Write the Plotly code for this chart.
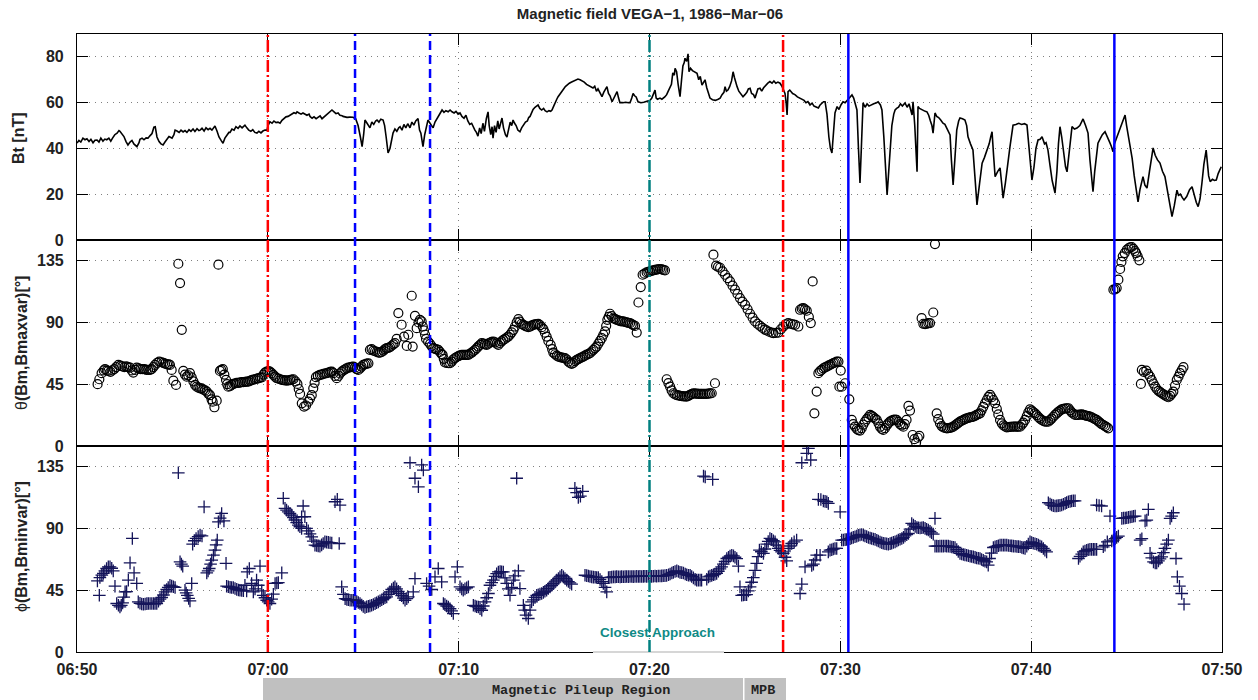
import plotly.graph_objects as go
from plotly.subplots import make_subplots

# ---------------- data (time in minutes after 06:50 UT) ----------------
TITLE = "Magnetic field VEGA\u22121, 1986\u2212Mar\u221206"
tick_minutes = [0, 10, 20, 30, 40, 50, 60]
tick_labels = ["06:50", "07:00", "07:10", "07:20", "07:30", "07:40", "07:50"]
bt_ticks = [0, 20, 40, 60, 80]
ang_ticks = [0, 45, 90, 135]

bt_pts = [
    (0.00, 42.4), (0.10, 43.5), (0.20, 42.8), (0.31, 44.5), (0.42, 43.8), (0.52, 44.2), (0.63, 43.0),
    (0.73, 44.0), (0.84, 42.5), (0.94, 43.6), (1.05, 43.7), (1.15, 42.8), (1.25, 44.5), (1.36, 43.2),
    (1.46, 44.1), (1.56, 43.8), (1.67, 44.5), (1.77, 43.2), (1.87, 44.6), (1.98, 46.0), (2.10, 46.7),
    (2.20, 47.8), (2.25, 47.5), (2.36, 46.0), (2.46, 45.2), (2.57, 43.0), (2.67, 41.5), (2.78, 42.8),
    (2.88, 43.5), (2.98, 42.0), (3.08, 41.2), (3.14, 40.8), (3.25, 42.5), (3.30, 44.0), (3.41, 44.5),
    (3.51, 43.8), (3.62, 44.6), (3.72, 44.5), (3.82, 45.5), (3.93, 46.5), (4.03, 49.3), (4.10, 49.5),
    (4.19, 45.0), (4.30, 43.0), (4.40, 42.0), (4.51, 41.5), (4.61, 42.8), (4.72, 44.0), (4.82, 45.2),
    (4.87, 45.0), (4.98, 44.5), (5.08, 46.0), (5.14, 48.0), (5.24, 47.6), (5.35, 47.0), (5.45, 48.0),
    (5.56, 47.2), (5.66, 47.8), (5.76, 47.0), (5.87, 48.2), (5.97, 47.5), (6.08, 48.5), (6.18, 47.4),
    (6.29, 48.6), (6.39, 47.8), (6.45, 48.0), (6.55, 48.8), (6.66, 47.6), (6.76, 49.0), (6.87, 48.2),
    (6.97, 48.8), (7.07, 48.0), (7.17, 49.2), (7.23, 49.8), (7.34, 47.5), (7.44, 45.0), (7.55, 43.5),
    (7.65, 42.3), (7.75, 44.5), (7.86, 46.0), (7.96, 47.0), (8.02, 47.0), (8.12, 48.5), (8.23, 48.0),
    (8.33, 49.5), (8.44, 48.8), (8.54, 49.8), (8.65, 49.0), (8.80, 50.2), (8.90, 49.0), (9.00, 48.0),
    (9.11, 47.5), (9.21, 48.2), (9.32, 47.0), (9.43, 46.7), (9.53, 47.5), (9.64, 46.8), (9.74, 47.6),
    (9.85, 48.0), (9.96, 48.0), (10.01, 50.0), (10.11, 51.7), (10.22, 51.0), (10.32, 52.0), (10.43, 51.3),
    (10.53, 51.5), (10.64, 51.0), (10.74, 52.3), (10.85, 53.0), (10.95, 53.8), (11.06, 54.0), (11.16, 54.6),
    (11.26, 55.0), (11.37, 55.6), (11.47, 55.3), (11.53, 56.0), (11.63, 55.5), (11.74, 55.0), (11.84, 55.5),
    (11.95, 54.8), (12.05, 54.5), (12.16, 55.0), (12.21, 54.0), (12.32, 53.2), (12.42, 53.8), (12.53, 53.0),
    (12.63, 53.6), (12.74, 54.2), (12.84, 53.0), (12.95, 53.8), (13.05, 54.8), (13.16, 55.5), (13.26, 56.0),
    (13.36, 56.8), (13.47, 56.0), (13.57, 55.2), (13.68, 55.5), (13.78, 54.5), (13.89, 54.3), (13.94, 54.0),
    (14.05, 53.8), (14.15, 53.6), (14.30, 53.7), (14.46, 53.6), (14.60, 53.0), (14.73, 50.0), (14.85, 45.0),
    (14.94, 40.8), (15.02, 46.0), (15.09, 52.4), (15.20, 51.0), (15.35, 49.0), (15.45, 51.5), (15.55, 50.5),
    (15.65, 52.0), (15.72, 52.4), (15.82, 51.5), (15.92, 52.8), (16.04, 52.4), (16.12, 50.0), (16.20, 45.0),
    (16.30, 38.0), (16.40, 40.0), (16.50, 45.0), (16.56, 46.7), (16.66, 48.5), (16.76, 47.5), (16.86, 49.0),
    (16.93, 49.5), (17.03, 48.0), (17.13, 50.5), (17.23, 49.0), (17.33, 50.8), (17.45, 49.0), (17.55, 51.5),
    (17.65, 50.2), (17.75, 52.0), (17.87, 53.0), (17.95, 48.0), (18.02, 46.7), (18.08, 43.5), (18.13, 40.8),
    (18.22, 46.0), (18.30, 49.5), (18.39, 52.4), (18.50, 51.0), (18.60, 50.0), (18.66, 49.0), (18.76, 51.5),
    (18.86, 53.0), (18.96, 54.5), (19.05, 55.5), (19.13, 56.8), (19.23, 55.8), (19.33, 56.5), (19.45, 56.0),
    (19.55, 56.8), (19.65, 56.0), (19.76, 55.5), (19.86, 56.2), (19.97, 55.0), (20.07, 55.5), (20.17, 54.0),
    (20.28, 53.2), (20.38, 54.5), (20.48, 52.0), (20.58, 50.5), (20.68, 51.0), (20.75, 49.5), (20.85, 48.0),
    (20.93, 47.0), (21.01, 45.4), (21.10, 49.0), (21.18, 46.5), (21.27, 51.0), (21.35, 47.5), (21.45, 53.0),
    (21.54, 56.0), (21.60, 50.0), (21.68, 46.0), (21.75, 49.5), (21.80, 44.5), (21.88, 50.0), (21.96, 47.0),
    (22.05, 52.0), (22.12, 48.5), (22.20, 51.0), (22.27, 53.3), (22.35, 49.0), (22.45, 46.0), (22.53, 45.0),
    (22.62, 49.5), (22.70, 51.5), (22.78, 50.0), (22.85, 52.4), (22.93, 51.0), (23.01, 50.0), (23.10, 48.0),
    (23.21, 47.3), (23.30, 49.0), (23.40, 50.5), (23.50, 51.5), (23.60, 52.0), (23.67, 53.5), (23.74, 54.0),
    (23.82, 55.5), (23.90, 57.0), (24.00, 58.0), (24.08, 58.5), (24.16, 59.0), (24.25, 57.5), (24.35, 56.8),
    (24.45, 57.5), (24.53, 56.5), (24.63, 56.0), (24.73, 56.5), (24.82, 56.2), (24.89, 56.8), (24.98, 58.5),
    (25.06, 60.5), (25.14, 61.5), (25.21, 62.6), (25.30, 63.5), (25.40, 65.0), (25.50, 66.0), (25.59, 67.0),
    (25.68, 67.7), (25.80, 68.5), (25.92, 69.0), (26.04, 69.5), (26.15, 69.8), (26.25, 70.3), (26.36, 70.0),
    (26.47, 69.5), (26.58, 69.0), (26.70, 68.0), (26.80, 67.5), (26.92, 67.0), (27.04, 66.4), (27.13, 67.2),
    (27.22, 65.0), (27.30, 66.0), (27.40, 64.5), (27.51, 62.6), (27.60, 64.5), (27.70, 66.0), (27.77, 67.0),
    (27.85, 64.0), (27.93, 63.0), (28.04, 60.4), (28.12, 62.0), (28.20, 63.5), (28.30, 64.8), (28.38, 62.0),
    (28.45, 60.0), (28.60, 60.0), (28.75, 60.2), (28.90, 60.0), (28.98, 60.0), (29.07, 62.0), (29.14, 64.0),
    (29.22, 63.0), (29.30, 62.5), (29.40, 60.4), (29.55, 60.0), (29.70, 60.2), (29.85, 60.5), (30.03, 61.0),
    (30.12, 62.0), (30.20, 63.5), (30.29, 65.5), (30.35, 62.0), (30.42, 61.5), (30.55, 62.0), (30.65, 61.5),
    (30.80, 62.5), (30.90, 63.5), (30.97, 64.8), (31.05, 66.0), (31.15, 68.0), (31.22, 73.0), (31.30, 72.0),
    (31.34, 75.0), (31.42, 73.5), (31.50, 68.0), (31.60, 62.6), (31.68, 70.0), (31.75, 76.0), (31.82, 77.5),
    (31.86, 79.4), (31.95, 78.0), (32.02, 81.3), (32.07, 73.5), (32.15, 75.0), (32.25, 74.0), (32.35, 73.5),
    (32.49, 72.8), (32.58, 70.0), (32.66, 71.5), (32.75, 67.7), (32.83, 69.0), (32.91, 70.0), (33.00, 66.5),
    (33.08, 64.0), (33.17, 62.0), (33.30, 61.3), (33.45, 61.0), (33.60, 61.5), (33.70, 62.0), (33.80, 63.5),
    (33.90, 64.5), (33.96, 67.0), (34.03, 65.0), (34.11, 65.5), (34.20, 67.0), (34.30, 69.5), (34.38, 73.5),
    (34.45, 71.0), (34.52, 68.5), (34.59, 67.0), (34.68, 65.0), (34.78, 64.0), (34.90, 62.6), (35.00, 63.5),
    (35.10, 64.5), (35.18, 66.0), (35.27, 66.3), (35.35, 64.0), (35.45, 63.5), (35.53, 62.0), (35.60, 64.5),
    (35.68, 66.0), (35.79, 66.3), (35.88, 65.0), (35.98, 66.5), (36.08, 67.5), (36.20, 68.5), (36.31, 69.2),
    (36.42, 68.5), (36.52, 69.5), (36.62, 68.5), (36.73, 69.0), (36.84, 68.5), (36.95, 67.0), (37.03, 65.5),
    (37.10, 64.0), (37.16, 60.0), (37.21, 54.6), (37.26, 64.8), (37.35, 65.5), (37.50, 64.0), (37.62, 63.5),
    (37.75, 62.5), (37.89, 62.0), (38.00, 61.5), (38.10, 61.0), (38.20, 60.0), (38.30, 60.5), (38.41, 59.0),
    (38.52, 59.8), (38.62, 58.5), (38.75, 58.2), (38.85, 57.7), (38.94, 59.0), (39.05, 60.0), (39.12, 60.4),
    (39.20, 60.4), (39.30, 55.0), (39.40, 45.0), (39.48, 40.0), (39.56, 38.0), (39.65, 48.0), (39.72, 55.5),
    (39.83, 58.3), (39.93, 57.0), (40.03, 59.0), (40.14, 60.4), (40.25, 60.0), (40.40, 61.5), (40.52, 62.5),
    (40.61, 63.4), (40.70, 62.0), (40.78, 60.0), (40.87, 56.8), (40.95, 40.0), (41.03, 24.9), (41.10, 40.0),
    (41.19, 59.9), (41.30, 58.0), (41.40, 59.5), (41.50, 58.5), (41.60, 59.0), (41.75, 59.5), (41.90, 60.0),
    (41.98, 60.4), (42.10, 59.0), (42.18, 56.8), (42.28, 45.0), (42.36, 30.0), (42.45, 19.7), (42.52, 28.0),
    (42.60, 39.3), (42.70, 50.0), (42.80, 55.0), (42.87, 56.8), (42.95, 57.5), (43.05, 58.0), (43.15, 59.5),
    (43.25, 58.5), (43.39, 59.9), (43.50, 58.0), (43.60, 59.5), (43.70, 57.0), (43.76, 54.6), (43.81, 60.4),
    (43.90, 50.0), (44.02, 29.8), (44.07, 58.3), (44.15, 57.5), (44.25, 57.0), (44.35, 56.5), (44.45, 56.2),
    (44.54, 56.0), (44.63, 54.5), (44.72, 52.0), (44.80, 50.0), (44.86, 46.7), (44.96, 55.5), (45.05, 54.0),
    (45.15, 53.5), (45.25, 52.5), (45.38, 51.0), (45.48, 50.5), (45.58, 49.0), (45.68, 47.5), (45.75, 45.9),
    (45.82, 35.0), (45.91, 24.0), (46.00, 35.0), (46.10, 48.0), (46.20, 52.0), (46.27, 53.3), (46.40, 53.0),
    (46.53, 52.4), (46.62, 50.0), (46.69, 45.1), (46.82, 42.0), (46.95, 39.3), (47.05, 28.0), (47.16, 15.3),
    (47.30, 25.0), (47.43, 33.6), (47.55, 36.0), (47.69, 39.3), (47.80, 42.0), (47.88, 45.0), (47.95, 47.3),
    (48.03, 37.0), (48.11, 27.7), (48.25, 30.0), (48.37, 31.5), (48.45, 25.0), (48.53, 18.3), (48.65, 25.0),
    (48.77, 34.0), (48.89, 40.8), (48.97, 45.5), (49.05, 50.2), (49.20, 50.5), (49.35, 51.0), (49.50, 50.5),
    (49.65, 50.8), (49.78, 50.2), (49.88, 42.0), (49.96, 33.0), (50.04, 26.2), (50.15, 32.0), (50.25, 40.0),
    (50.36, 43.7), (50.47, 44.0), (50.57, 45.1), (50.70, 42.0), (50.78, 42.5), (50.88, 39.3), (50.98, 33.0),
    (51.10, 26.0), (51.25, 20.5), (51.35, 30.0), (51.43, 42.0), (51.51, 49.5), (51.60, 45.0), (51.70, 38.0),
    (51.80, 32.0), (51.88, 29.8), (51.98, 38.0), (52.06, 45.0), (52.14, 49.5), (52.27, 48.5), (52.40, 48.9),
    (52.55, 50.0), (52.72, 52.9), (52.85, 50.0), (52.98, 46.7), (53.08, 35.0), (53.17, 26.0), (53.24, 21.1),
    (53.33, 30.0), (53.42, 38.0), (53.50, 42.3), (53.60, 44.0), (53.73, 46.0), (53.87, 47.3), (53.98, 45.5),
    (54.10, 43.0), (54.20, 41.0), (54.29, 38.6), (54.36, 42.0), (54.50, 45.1), (54.62, 47.5), (54.75, 51.0),
    (54.85, 53.5), (54.92, 54.6), (55.00, 50.0), (55.10, 45.0), (55.20, 40.0), (55.29, 35.8), (55.40, 28.0),
    (55.50, 22.0), (55.60, 16.7), (55.70, 22.0), (55.80, 26.0), (55.86, 27.7), (55.96, 24.0), (56.07, 22.7),
    (56.20, 30.0), (56.30, 36.0), (56.39, 40.2), (56.50, 37.0), (56.62, 35.0), (56.75, 33.6), (56.88, 30.0),
    (57.01, 27.7), (57.12, 22.0), (57.25, 15.0), (57.38, 10.2), (57.50, 15.0), (57.64, 21.8), (57.72, 19.5),
    (57.82, 20.0), (57.92, 18.5), (58.01, 17.5), (58.15, 19.0), (58.30, 22.0), (58.43, 23.3), (58.55, 19.0),
    (58.65, 16.5), (58.75, 14.6), (58.85, 18.0), (58.95, 25.0), (59.05, 33.0), (59.17, 39.3), (59.25, 33.0),
    (59.30, 28.0), (59.38, 25.5), (59.50, 26.5), (59.60, 26.0), (59.70, 26.2), (59.80, 29.0), (59.96, 32.0),
]

theta_pts = [
    (1.08, 45.0), (1.17, 48.6), (1.29, 53.0), (1.40, 55.0), (1.47, 56.0), (1.56, 55.0), (1.64, 54.7),
    (1.75, 54.0), (1.85, 55.0), (1.95, 56.0), (2.05, 57.5), (2.17, 59.0), (2.27, 58.5), (2.37, 58.0),
    (2.48, 57.5), (2.58, 58.0), (2.68, 57.5), (2.78, 57.0), (2.87, 55.0), (2.95, 53.5), (3.05, 55.5),
    (3.13, 57.0), (3.23, 56.5), (3.33, 56.0), (3.43, 56.0), (3.53, 56.0), (3.63, 55.5), (3.73, 55.5),
    (3.83, 55.5), (3.91, 56.0), (4.00, 57.5), (4.09, 59.0), (4.20, 60.5), (4.31, 61.5), (4.42, 61.0),
    (4.52, 60.5), (4.61, 60.0), (4.72, 59.5), (4.80, 59.5), (4.87, 59.0), (4.96, 55.4), (5.05, 47.6),
    (5.19, 44.5), (5.31, 132.7), (5.40, 118.6), (5.49, 84.6), (5.57, 54.7), (5.66, 52.0), (5.75, 50.5),
    (5.83, 51.5), (5.92, 53.0), (6.01, 50.0), (6.10, 47.0), (6.19, 44.5), (6.27, 43.2), (6.36, 42.5),
    (6.45, 42.0), (6.53, 42.0), (6.62, 41.0), (6.71, 40.5), (6.80, 39.6), (6.89, 38.0), (6.97, 37.0),
    (7.05, 34.0), (7.11, 32.3), (7.20, 28.2), (7.32, 33.0), (7.41, 132.0), (7.49, 54.7), (7.56, 55.5),
    (7.64, 56.0), (7.72, 52.0), (7.81, 48.1), (7.87, 45.0), (7.93, 43.2), (8.02, 43.5), (8.10, 44.5),
    (8.19, 45.2), (8.28, 45.5), (8.37, 46.0), (8.46, 46.0), (8.54, 46.2), (8.63, 46.5), (8.72, 46.5),
    (8.81, 46.7), (8.90, 46.9), (8.98, 46.9), (9.07, 47.5), (9.15, 48.0), (9.24, 48.3), (9.33, 48.6),
    (9.42, 49.0), (9.50, 49.3), (9.59, 49.7), (9.68, 50.0), (9.77, 52.0), (9.85, 53.5), (9.94, 54.2),
    (10.03, 54.5), (10.11, 54.2), (10.20, 53.0), (10.29, 51.8), (10.38, 50.5), (10.46, 49.5), (10.55, 49.0),
    (10.64, 48.6), (10.73, 48.2), (10.81, 48.0), (10.90, 47.8), (10.99, 47.6), (11.08, 47.8), (11.17, 48.0),
    (11.25, 48.3), (11.34, 48.6), (11.45, 47.0), (11.55, 45.2), (11.62, 41.5), (11.69, 37.9), (11.78, 31.1),
    (11.90, 28.7), (12.00, 29.5), (12.12, 32.3), (12.21, 34.5), (12.30, 37.0), (12.38, 42.0), (12.45, 46.0),
    (12.52, 50.1), (12.62, 51.0), (12.73, 51.8), (12.82, 52.0), (12.91, 52.5), (13.00, 52.8), (13.09, 53.0),
    (13.18, 53.5), (13.27, 54.0), (13.35, 54.2), (13.44, 53.0), (13.52, 51.0), (13.61, 49.4), (13.70, 51.0),
    (13.78, 52.8), (13.87, 54.2), (13.96, 55.0), (14.05, 55.8), (14.13, 56.6), (14.22, 57.0), (14.31, 57.3),
    (14.40, 57.6), (14.48, 57.8), (14.57, 57.0), (14.65, 56.0), (14.74, 55.4), (14.83, 56.5), (14.91, 57.8),
    (15.00, 59.0), (15.09, 59.5), (15.18, 60.0), (15.27, 60.2), (15.35, 70.0), (15.44, 70.5), (15.53, 69.5),
    (15.62, 69.0), (15.71, 68.5), (15.80, 68.0), (15.88, 68.0), (15.97, 68.5), (16.06, 69.5), (16.14, 70.5),
    (16.23, 71.3), (16.32, 71.5), (16.40, 72.0), (16.49, 73.0), (16.58, 74.0), (16.66, 74.9), (16.75, 78.0),
    (16.84, 96.8), (17.01, 88.3), (17.14, 79.7), (17.28, 72.9), (17.36, 81.0), (17.54, 109.4), (17.59, 72.4),
    (17.71, 94.8), (17.80, 85.8), (17.90, 90.0), (17.97, 91.9), (18.06, 90.7), (18.12, 87.0), (18.18, 84.1),
    (18.24, 81.0), (18.29, 78.0), (18.40, 76.0), (18.50, 74.4), (18.58, 72.8), (18.67, 71.3), (18.76, 70.8),
    (18.84, 70.4), (18.93, 70.0), (19.02, 68.5), (19.10, 67.0), (19.16, 66.4), (19.22, 63.5), (19.28, 60.8),
    (19.37, 60.5), (19.46, 60.3), (19.55, 60.3), (19.64, 61.5), (19.72, 63.0), (19.81, 64.0), (19.90, 64.8),
    (19.99, 65.5), (20.07, 66.0), (20.16, 66.4), (20.25, 66.4), (20.34, 66.4), (20.42, 66.4), (20.51, 66.4),
    (20.60, 67.2), (20.69, 68.0), (20.77, 69.0), (20.86, 70.0), (20.95, 71.2), (21.03, 72.5), (21.12, 73.7),
    (21.21, 74.9), (21.30, 74.5), (21.38, 74.0), (21.47, 73.7), (21.56, 74.5), (21.64, 75.2), (21.73, 75.8),
    (21.82, 76.1), (21.91, 75.5), (21.99, 74.5), (22.08, 73.7), (22.17, 75.0), (22.25, 76.2), (22.34, 77.3),
    (22.43, 78.0), (22.52, 79.0), (22.60, 79.7), (22.69, 81.0), (22.78, 82.8), (22.87, 84.6), (22.95, 87.0),
    (23.04, 90.0), (23.13, 92.4), (23.21, 90.5), (23.30, 89.0), (23.39, 88.2), (23.48, 87.5), (23.56, 87.0),
    (23.65, 86.5), (23.74, 87.0), (23.82, 87.6), (23.91, 88.2), (24.00, 88.5), (24.09, 88.8), (24.17, 88.9),
    (24.26, 88.0), (24.35, 86.5), (24.44, 85.1), (24.52, 82.5), (24.61, 79.7), (24.70, 76.5), (24.82, 73.7),
    (24.90, 70.5), (24.96, 68.0), (25.05, 66.8), (25.14, 65.8), (25.22, 65.1), (25.31, 64.7), (25.40, 64.4),
    (25.48, 64.2), (25.57, 64.0), (25.66, 63.0), (25.75, 61.5), (25.83, 60.5), (25.92, 59.8), (26.01, 60.5),
    (26.10, 61.8), (26.19, 62.7), (26.27, 63.3), (26.36, 64.0), (26.45, 64.6), (26.53, 65.1), (26.62, 65.8),
    (26.71, 66.5), (26.80, 67.0), (26.88, 67.6), (26.97, 68.8), (27.06, 70.0), (27.15, 71.2), (27.23, 72.4),
    (27.32, 74.5), (27.41, 76.5), (27.50, 78.5), (27.58, 81.0), (27.67, 83.4), (27.73, 87.5), (27.79, 91.9),
    (27.86, 94.0), (27.93, 96.3), (28.02, 94.5), (28.11, 93.0), (28.19, 92.5), (28.28, 91.9), (28.37, 91.5),
    (28.46, 91.0), (28.54, 90.8), (28.63, 90.7), (28.72, 90.3), (28.80, 90.0), (28.89, 89.7), (28.98, 89.4),
    (29.07, 88.7), (29.15, 88.0), (29.24, 87.4), (29.33, 82.6), (29.42, 104.5), (29.54, 115.7), (29.64, 124.7),
    (29.74, 125.5), (29.85, 126.4), (29.94, 126.8), (30.03, 127.2), (30.12, 127.6), (30.20, 127.9), (30.29, 128.2),
    (30.38, 128.5), (30.46, 128.7), (30.55, 128.9), (30.64, 128.6), (30.72, 128.2), (30.81, 127.9), (30.90, 48.6),
    (30.99, 45.8), (31.08, 43.2), (31.16, 40.5), (31.25, 38.4), (31.34, 37.5), (31.43, 37.0), (31.51, 36.8),
    (31.60, 36.5), (31.69, 36.3), (31.78, 36.2), (31.86, 36.1), (31.95, 36.0), (32.04, 36.5), (32.12, 37.2),
    (32.21, 37.8), (32.30, 38.4), (32.39, 38.2), (32.47, 38.1), (32.56, 38.0), (32.65, 38.0), (32.73, 38.0),
    (32.82, 38.0), (32.91, 38.0), (33.00, 38.0), (33.09, 38.2), (33.17, 38.3), (33.26, 38.4), (33.43, 45.7),
    (33.35, 139.3), (33.49, 131.3), (33.59, 130.5), (33.70, 129.8), (33.83, 127.2), (33.96, 124.7), (34.09, 122.2),
    (34.22, 119.8), (34.35, 116.8), (34.48, 113.8), (34.61, 110.7), (34.74, 107.7), (34.87, 105.2), (35.01, 102.8),
    (35.14, 99.5), (35.27, 96.3), (35.40, 93.5), (35.53, 90.7), (35.66, 89.0), (35.79, 87.5), (35.92, 86.0),
    (36.05, 84.8), (36.14, 84.1), (36.27, 83.2), (36.40, 82.5), (36.49, 82.2), (36.62, 82.3), (36.75, 82.6),
    (36.88, 85.0), (37.01, 87.0), (37.14, 88.5), (37.27, 89.4), (37.40, 89.0), (37.51, 88.6), (37.63, 88.2),
    (37.80, 87.0), (37.89, 99.2), (37.98, 100.0), (38.06, 100.4), (38.15, 99.5), (38.24, 98.5), (38.35, 94.0),
    (38.45, 89.5), (38.55, 119.8), (38.64, 23.8), (38.76, 39.6), (38.85, 53.0), (38.94, 54.5), (39.02, 55.5),
    (39.11, 56.6), (39.20, 57.2), (39.29, 57.8), (39.38, 58.5), (39.46, 59.0), (39.55, 59.7), (39.64, 60.3),
    (39.72, 60.8), (39.81, 61.5), (39.90, 61.5), (40.02, 54.9), (39.95, 43.2), (40.07, 43.2), (40.25, 45.7),
    (40.47, 34.0), (40.60, 19.0), (40.68, 16.0), (40.77, 14.1), (40.86, 12.5), (40.94, 11.6), (41.03, 11.2),
    (41.12, 13.0), (41.20, 15.5), (41.29, 17.7), (41.38, 19.5), (41.47, 21.0), (41.56, 22.6), (41.65, 22.0),
    (41.73, 21.0), (41.82, 20.0), (41.91, 19.0), (42.00, 16.5), (42.08, 14.0), (42.17, 12.5), (42.25, 11.7),
    (42.34, 13.0), (42.43, 15.0), (42.51, 16.5), (42.60, 17.7), (42.69, 18.5), (42.78, 19.0), (42.86, 19.2),
    (42.95, 19.0), (43.04, 17.5), (43.13, 16.0), (43.21, 15.0), (43.30, 14.1), (43.38, 16.0), (43.47, 19.0),
    (43.57, 29.2), (43.65, 25.8), (43.79, 8.0), (43.88, 5.0), (43.97, 2.4), (44.06, 6.0), (44.14, 7.3),
    (44.26, 93.1), (44.35, 89.0), (44.44, 88.8), (44.52, 89.0), (44.61, 89.5), (44.70, 89.5), (44.87, 97.2),
    (44.96, 147.0), (45.05, 23.8), (45.13, 19.5), (45.22, 16.5), (45.31, 14.5), (45.40, 13.5), (45.49, 13.1),
    (45.58, 12.9), (45.66, 13.0), (45.75, 13.2), (45.84, 13.6), (45.92, 14.1), (46.01, 15.0), (46.10, 16.0),
    (46.18, 16.9), (46.27, 17.7), (46.36, 18.4), (46.45, 19.0), (46.53, 19.6), (46.62, 20.1), (46.71, 20.5),
    (46.80, 20.8), (46.88, 21.1), (46.97, 21.4), (47.06, 22.0), (47.14, 22.6), (47.23, 23.2), (47.32, 23.8),
    (47.40, 26.0), (47.49, 28.5), (47.58, 31.1), (47.67, 33.5), (47.76, 35.8), (47.85, 37.2), (47.93, 35.5),
    (48.02, 33.5), (48.11, 31.1), (48.20, 27.0), (48.28, 23.0), (48.37, 19.0), (48.46, 16.5), (48.55, 15.0),
    (48.63, 14.2), (48.72, 13.6), (48.81, 13.7), (48.90, 13.9), (48.98, 14.0), (49.07, 14.1), (49.16, 14.1),
    (49.25, 14.1), (49.33, 14.1), (49.42, 14.1), (49.51, 15.5), (49.59, 17.0), (49.68, 19.0), (49.77, 21.8),
    (49.85, 24.5), (49.94, 26.7), (50.03, 25.7), (50.11, 24.6), (50.20, 23.8), (50.29, 22.5), (50.38, 21.0),
    (50.46, 20.0), (50.55, 19.0), (50.64, 18.2), (50.72, 17.8), (50.81, 17.7), (50.90, 17.7), (50.99, 18.8),
    (51.07, 20.0), (51.16, 21.3), (51.25, 22.6), (51.34, 23.7), (51.42, 24.8), (51.51, 25.8), (51.60, 26.7),
    (51.69, 27.1), (51.78, 27.3), (51.86, 27.5), (51.95, 27.5), (52.04, 26.0), (52.12, 24.5), (52.21, 23.5),
    (52.30, 22.6), (52.39, 22.6), (52.47, 22.6), (52.56, 22.8), (52.65, 23.0), (52.73, 22.6), (52.82, 22.3),
    (52.91, 22.0), (52.99, 21.7), (53.08, 21.4), (53.17, 20.8), (53.26, 20.2), (53.34, 19.6), (53.43, 19.0),
    (53.52, 18.0), (53.60, 17.0), (53.69, 16.0), (53.78, 15.3), (53.87, 14.5), (53.95, 13.7), (54.04, 12.9),
    (54.31, 113.8), (54.40, 114.0), (54.48, 115.0), (54.57, 121.1), (54.66, 128.9), (54.73, 134.0), (54.80, 138.1),
    (54.90, 140.5), (55.01, 142.9), (55.10, 144.0), (55.19, 144.6), (55.27, 144.9), (55.36, 143.5), (55.44, 142.0),
    (55.50, 140.5), (55.58, 138.0), (55.67, 135.2), (55.75, 45.2), (55.80, 55.4), (55.90, 54.0), (56.03, 54.9),
    (56.13, 52.5), (56.23, 50.5), (56.32, 48.0), (56.41, 45.5), (56.50, 43.2), (56.58, 41.5), (56.67, 40.2),
    (56.76, 39.3), (56.84, 38.4), (56.93, 37.6), (57.02, 36.8), (57.10, 36.1), (57.19, 35.5), (57.28, 36.5),
    (57.36, 38.0), (57.45, 39.6), (57.54, 44.0), (57.63, 48.1), (57.72, 50.5), (57.80, 53.0), (57.89, 55.2),
    (57.98, 57.4),
]

phi_pts = [
    (1.07, 51.8), (1.17, 41.3), (1.20, 54.2), (1.30, 56.0), (1.38, 57.2), (1.46, 59.0), (1.55, 60.8),
    (1.64, 62.0), (1.73, 62.0), (1.82, 61.0), (1.90, 59.1), (1.99, 47.9), (2.08, 35.3), (2.17, 34.0),
    (2.25, 32.8), (2.32, 34.0), (2.39, 35.7), (2.45, 40.0), (2.52, 43.8), (2.60, 44.0), (2.69, 52.3),
    (2.78, 64.9), (2.90, 82.7), (2.99, 57.6), (3.13, 49.9), (3.21, 36.5), (3.30, 35.5), (3.39, 35.0),
    (3.48, 34.8), (3.57, 35.0), (3.66, 35.2), (3.74, 35.3), (3.83, 35.3), (3.92, 35.3), (4.01, 35.3),
    (4.09, 35.3), (4.18, 35.3), (4.27, 37.0), (4.35, 38.5), (4.44, 39.7), (4.53, 41.5), (4.61, 43.8),
    (4.70, 45.5), (4.78, 47.0), (4.87, 48.6), (4.96, 48.0), (5.05, 47.5), (5.14, 47.0), (5.31, 130.5),
    (5.40, 65.6), (5.47, 64.0), (5.54, 62.5), (5.66, 45.0), (5.72, 43.0), (5.78, 41.3), (5.85, 39.0),
    (5.92, 37.2), (6.01, 49.9), (6.06, 78.5), (6.15, 81.0), (6.24, 82.7), (6.35, 84.0), (6.45, 85.1),
    (6.55, 84.5), (6.66, 105.7), (6.80, 57.6), (6.87, 59.0), (6.93, 60.8), (7.00, 64.0), (7.06, 66.9),
    (7.15, 70.5), (7.23, 74.2), (7.29, 78.0), (7.35, 81.5), (7.41, 94.8), (7.50, 97.5), (7.58, 100.9),
    (7.70, 95.5), (7.81, 64.5), (7.84, 47.9), (7.93, 47.5), (8.02, 47.2), (8.10, 47.0), (8.19, 47.0),
    (8.28, 46.2), (8.37, 45.6), (8.46, 45.2), (8.54, 45.0), (8.63, 44.8), (8.72, 44.6), (8.80, 48.6),
    (8.89, 44.5), (8.92, 58.3), (9.03, 60.8), (9.15, 49.9), (9.24, 43.8), (9.33, 46.0), (9.41, 52.3),
    (9.50, 48.6), (9.59, 62.5), (9.68, 44.5), (9.76, 41.3), (9.85, 39.5), (9.94, 37.7), (10.02, 36.5),
    (10.11, 35.3), (10.20, 38.5), (10.29, 42.1), (10.38, 49.9), (10.47, 50.2), (10.55, 50.5), (10.73, 57.6),
    (10.81, 111.9), (10.90, 104.6), (10.98, 103.3), (11.07, 102.1), (11.16, 101.0), (11.25, 99.7), (11.34, 97.8),
    (11.42, 96.1), (11.51, 94.2), (11.60, 92.4), (11.68, 91.2), (11.77, 90.0), (11.77, 98.5), (11.85, 106.3),
    (11.94, 98.5), (12.03, 90.0), (12.12, 88.2), (12.21, 86.0), (12.30, 83.9), (12.38, 80.8), (12.47, 77.8),
    (12.56, 77.5), (12.64, 77.3), (12.73, 77.1), (12.82, 78.0), (12.90, 79.0), (12.99, 80.2), (13.08, 80.0),
    (13.17, 79.8), (13.26, 79.6), (13.35, 79.4), (13.52, 109.4), (13.64, 111.2), (13.74, 79.0), (13.78, 107.0),
    (13.87, 47.4), (13.96, 42.0), (14.05, 38.9), (14.14, 38.3), (14.22, 38.0), (14.31, 37.7), (14.40, 37.7),
    (14.48, 37.7), (14.57, 37.7), (14.66, 36.8), (14.74, 36.0), (14.83, 35.3), (14.92, 34.2), (15.00, 33.2),
    (15.09, 32.4), (15.18, 32.9), (15.27, 33.3), (15.35, 33.6), (15.44, 34.0), (15.53, 34.6), (15.62, 35.2),
    (15.70, 35.9), (15.79, 36.5), (15.88, 37.3), (15.97, 38.1), (16.06, 38.9), (16.14, 39.5), (16.23, 40.1),
    (16.32, 42.0), (16.40, 43.8), (16.49, 45.5), (16.58, 46.5), (16.66, 47.4), (16.75, 46.0), (16.84, 44.2),
    (16.93, 42.6), (17.01, 41.0), (17.10, 39.3), (17.19, 37.7), (17.28, 38.9), (17.36, 40.1), (17.45, 137.8),
    (17.62, 43.8), (17.71, 53.5), (17.71, 126.5), (17.89, 120.3), (18.06, 136.2), (18.15, 132.5), (18.32, 49.9),
    (18.45, 48.0), (18.59, 45.5), (18.76, 54.7), (18.93, 60.8), (19.11, 51.0), (19.20, 35.3), (19.28, 34.5),
    (19.37, 33.5), (19.46, 32.8), (19.55, 31.5), (19.63, 30.0), (19.72, 28.0), (19.81, 54.7), (19.93, 62.0),
    (20.07, 47.4), (20.16, 46.0), (20.24, 45.0), (20.33, 46.0), (20.42, 46.8), (20.51, 47.4), (20.77, 34.0),
    (20.86, 33.5), (20.94, 33.0), (21.03, 32.8), (21.12, 31.5), (21.21, 30.4), (21.29, 33.5), (21.38, 36.5),
    (21.47, 39.5), (21.56, 42.6), (21.64, 48.6), (21.73, 50.5), (21.82, 52.3), (21.91, 55.0), (21.99, 57.0),
    (22.08, 58.3), (22.17, 58.5), (22.25, 58.4), (22.34, 58.3), (22.43, 54.0), (22.52, 49.9), (22.60, 46.0),
    (22.69, 41.3), (22.78, 47.0), (22.87, 52.3), (22.95, 55.5), (23.04, 126.5), (23.13, 59.1), (23.21, 46.2),
    (23.39, 34.0), (23.46, 30.5), (23.53, 26.8), (23.65, 24.4), (23.74, 30.5), (23.82, 36.5), (23.91, 38.0),
    (24.00, 39.8), (24.09, 41.3), (24.17, 41.7), (24.26, 42.2), (24.35, 42.6), (24.44, 43.4), (24.52, 44.2),
    (24.61, 45.0), (24.70, 46.2), (24.79, 47.4), (24.88, 48.6), (24.96, 49.8), (25.05, 51.0), (25.14, 52.3),
    (25.23, 53.5), (25.31, 54.7), (25.40, 55.9), (25.49, 54.7), (25.57, 53.5), (25.66, 52.3), (25.75, 51.3),
    (25.83, 50.3), (25.92, 49.4), (26.09, 119.2), (26.18, 116.0), (26.27, 112.6), (26.38, 113.5), (26.50, 117.0),
    (26.62, 55.9), (26.71, 55.6), (26.80, 55.3), (26.88, 55.0), (26.97, 54.7), (27.06, 54.5), (27.15, 54.4),
    (27.23, 54.3), (27.32, 54.2), (27.41, 52.8), (27.50, 51.3), (27.58, 49.9), (27.67, 47.0), (27.76, 43.8),
    (27.85, 54.2), (27.93, 54.4), (28.02, 54.5), (28.11, 54.7), (28.20, 54.7), (28.28, 54.9), (28.37, 54.8),
    (28.46, 54.7), (28.54, 54.9), (28.63, 54.8), (28.72, 54.9), (28.80, 55.0), (28.89, 54.9), (28.98, 55.0),
    (29.07, 55.0), (29.15, 54.9), (29.24, 55.0), (29.33, 55.1), (29.42, 55.0), (29.50, 55.1), (29.59, 55.0),
    (29.68, 55.1), (29.76, 55.2), (29.85, 55.1), (29.94, 55.2), (30.03, 55.2), (30.11, 55.1), (30.20, 55.2),
    (30.29, 55.3), (30.37, 55.2), (30.46, 55.3), (30.55, 55.3), (30.64, 55.4), (30.72, 55.5), (30.81, 55.6),
    (30.90, 55.8), (31.00, 56.3), (31.08, 56.8), (31.17, 57.5), (31.25, 58.0), (31.34, 58.6), (31.43, 59.1),
    (31.52, 58.6), (31.60, 58.0), (31.69, 57.8), (31.78, 57.5), (31.87, 56.8), (31.95, 56.3), (32.04, 55.9),
    (32.13, 55.9), (32.21, 55.0), (32.30, 54.0), (32.39, 53.0), (32.47, 52.3), (32.56, 52.3), (32.65, 52.3),
    (32.73, 52.3), (32.83, 128.1), (32.92, 127.5), (33.31, 125.7), (33.00, 53.0), (33.09, 54.7), (33.17, 55.3),
    (33.26, 55.8), (33.35, 56.3), (33.43, 56.7), (33.52, 57.2), (33.61, 58.8), (33.69, 60.5), (33.78, 62.0),
    (33.87, 64.0), (33.96, 66.0), (34.05, 68.1), (34.14, 69.0), (34.22, 69.8), (34.31, 70.5), (34.40, 70.0),
    (34.48, 69.0), (34.57, 68.0), (34.66, 62.5), (34.74, 47.4), (34.83, 41.3), (34.92, 41.5), (35.00, 41.7),
    (35.09, 41.8), (35.18, 44.5), (35.27, 47.4), (35.35, 50.8), (35.44, 54.2), (35.53, 59.4), (35.62, 64.5),
    (35.69, 69.5), (35.76, 74.2), (35.86, 73.0), (35.97, 71.8), (36.05, 75.0), (36.14, 78.5), (36.22, 80.5),
    (36.31, 82.7), (36.40, 82.0), (36.49, 81.0), (36.58, 80.2), (36.66, 77.8), (36.75, 75.4), (36.84, 74.0),
    (36.92, 72.9), (37.01, 71.8), (37.10, 69.0), (37.19, 66.4), (37.27, 75.4), (37.36, 77.2), (37.45, 79.0),
    (37.58, 80.2), (37.71, 81.5), (37.89, 42.6), (37.98, 49.4), (37.98, 137.8), (38.15, 62.0), (38.24, 144.7),
    (38.33, 148.3), (38.45, 139.8), (38.50, 63.0), (38.59, 64.0), (38.68, 67.0), (38.76, 70.5), (38.85, 111.1),
    (38.94, 70.5), (38.98, 111.0), (39.11, 110.0), (39.20, 109.7), (39.29, 109.4), (39.37, 108.2), (39.37, 72.9),
    (39.46, 74.2), (39.55, 74.5), (39.63, 75.0), (39.72, 75.4), (39.81, 75.4), (39.99, 102.1), (40.07, 81.5),
    (40.16, 81.5), (40.25, 81.8), (40.33, 81.9), (40.42, 82.0), (40.51, 82.5), (40.59, 83.0), (40.68, 83.5),
    (40.77, 83.9), (40.86, 84.4), (40.94, 84.9), (41.03, 85.3), (41.12, 85.6), (41.21, 85.0), (41.29, 84.5),
    (41.38, 84.0), (41.47, 83.4), (41.56, 83.0), (41.64, 82.7), (41.73, 82.3), (41.82, 82.0), (41.91, 81.4),
    (41.99, 80.8), (42.08, 80.1), (42.17, 79.5), (42.25, 79.2), (42.34, 78.9), (42.43, 78.7), (42.52, 78.5),
    (42.61, 78.9), (42.69, 79.3), (42.78, 79.8), (42.87, 80.2), (42.96, 80.8), (43.04, 81.5), (43.13, 82.1),
    (43.22, 82.7), (43.31, 83.5), (43.39, 84.5), (43.48, 85.4), (43.57, 86.3), (43.65, 89.5), (43.74, 93.6),
    (43.83, 92.5), (43.92, 91.5), (44.01, 90.7), (44.09, 90.5), (44.18, 90.3), (44.27, 90.5), (44.35, 90.7),
    (44.44, 90.0), (44.52, 89.4), (44.61, 88.8), (44.70, 87.8), (44.78, 86.8), (44.87, 85.8), (44.96, 97.3),
    (44.96, 77.1), (45.05, 77.1), (45.13, 77.0), (45.22, 77.1), (45.31, 77.1), (45.40, 77.1), (45.49, 77.2),
    (45.57, 77.1), (45.66, 77.1), (45.75, 76.8), (45.84, 76.5), (45.92, 76.3), (46.01, 76.1), (46.10, 74.6),
    (46.18, 73.2), (46.27, 71.8), (46.36, 71.4), (46.45, 71.0), (46.53, 70.7), (46.62, 70.5), (46.71, 70.1),
    (46.80, 69.7), (46.88, 69.5), (46.97, 69.3), (47.06, 68.9), (47.14, 68.5), (47.23, 68.3), (47.32, 68.1),
    (47.40, 67.4), (47.49, 66.7), (47.58, 66.1), (47.67, 65.6), (47.75, 63.2), (47.82, 68.1), (47.92, 72.0),
    (48.02, 76.1), (48.11, 76.6), (48.20, 77.0), (48.28, 77.4), (48.37, 77.8), (48.46, 77.8), (48.55, 77.8),
    (48.63, 77.8), (48.72, 77.8), (48.81, 77.6), (48.90, 77.4), (48.98, 77.3), (49.07, 77.1), (49.16, 77.0),
    (49.25, 76.8), (49.33, 76.7), (49.42, 76.6), (49.51, 76.2), (49.59, 75.8), (49.68, 75.4), (49.77, 77.0),
    (49.85, 78.6), (49.94, 80.2), (50.03, 79.6), (50.11, 79.2), (50.20, 78.8), (50.29, 78.5), (50.38, 77.8),
    (50.46, 77.2), (50.55, 76.6), (50.64, 75.4), (50.72, 74.1), (50.81, 72.9), (50.90, 108.7), (50.99, 107.8),
    (51.07, 107.0), (51.16, 106.6), (51.25, 106.3), (51.34, 106.4), (51.42, 106.6), (51.51, 106.8), (51.60, 107.0),
    (51.69, 107.6), (51.78, 108.2), (51.86, 108.8), (51.95, 109.4), (52.04, 109.7), (52.12, 110.0), (52.21, 110.1),
    (52.30, 110.1), (52.48, 68.1), (52.56, 69.7), (52.65, 71.3), (52.73, 72.9), (52.82, 73.5), (52.91, 74.0),
    (52.99, 74.4), (53.08, 74.7), (53.17, 74.7), (53.26, 74.7), (53.34, 74.7), (53.43, 74.7), (53.43, 107.0),
    (53.56, 106.7), (53.69, 106.3), (53.78, 76.6), (53.87, 77.7), (53.99, 80.2), (54.13, 99.0), (54.22, 80.8),
    (54.31, 81.5), (54.40, 82.5), (54.48, 83.5), (54.57, 84.4), (54.75, 97.3), (54.84, 97.5), (54.93, 97.6),
    (55.01, 97.8), (55.10, 98.0), (55.19, 98.3), (55.28, 98.5), (55.36, 98.8), (55.45, 99.0), (55.71, 81.5),
    (55.80, 82.5), (55.97, 95.5), (56.06, 96.0), (56.14, 103.8), (56.23, 71.8), (56.32, 68.5), (56.41, 65.6),
    (56.50, 64.9), (56.58, 64.9), (56.67, 66.3), (56.75, 67.8), (56.84, 69.3), (56.93, 72.3), (57.01, 75.4),
    (57.10, 78.5), (57.19, 81.5), (57.28, 97.3), (57.36, 99.0), (57.45, 101.4), (57.59, 68.1), (57.66, 54.7),
    (57.77, 47.9), (57.89, 42.6), (58.01, 34.8),
]

# event markers (minutes after 06:50)
red_dashdot_events = [10.0, 37.0]
blue_dashed_events = [14.57, 18.5]
closest_approach_events = [30.0]
blue_solid_events = [40.42, 54.36]

region_labels = ["Magnetic Pileup Region", "MPB"]

# ---------------- layout helpers ----------------
W, H = 1258, 700
L, R, T, B = 77, 36, 34, 48
PW, PH = W - L - R, H - T - B


def px_x(px):
    return (px - L) / PW


def px_y(py):
    return 1 - (py - T) / PH


FONT = "Arial, Liberation Sans, Helvetica, sans-serif"

bt_t, bt_v = zip(*bt_pts)
th_t, th_v = zip(*theta_pts)
ph_t, ph_v = zip(*phi_pts)

fig = make_subplots(rows=3, cols=1, shared_xaxes=True, vertical_spacing=0)

fig.add_trace(go.Scatter(x=bt_t, y=bt_v, mode="lines",
                         line=dict(color="black", width=1.6), showlegend=False), row=1, col=1)
fig.add_trace(go.Scatter(x=th_t, y=th_v, mode="markers",
                         marker=dict(symbol="circle-open", size=9, color="black",
                                     line=dict(width=1.2, color="black")),
                         showlegend=False), row=2, col=1)
fig.add_trace(go.Scatter(x=ph_t, y=ph_v, mode="markers",
                         marker=dict(symbol="cross-thin-open", size=9, color="#14145a",
                                     line=dict(width=1.3, color="#14145a")),
                         showlegend=False), row=3, col=1)

tickfont = dict(family=FONT, size=16, color="#222222", weight="bold")
axis_common = dict(showline=True, linecolor="black", linewidth=1.1, mirror="allticks",
                   ticks="inside", ticklen=11, tickcolor="black", tickwidth=1,
                   showgrid=True, gridcolor="#808080", griddash="1px,5px", gridwidth=1,
                   zeroline=False, tickfont=tickfont)

for i in (1, 2, 3):
    fig.update_xaxes(range=[0, 60], tickvals=tick_minutes, ticktext=tick_labels,
                     showticklabels=(i == 3), ticklabelstandoff=3, **axis_common, row=i, col=1)

fig.update_yaxes(range=[0, 90], tickvals=bt_ticks, ticklabelstandoff=9, **axis_common, row=1, col=1)
fig.update_yaxes(range=[0, 150], tickvals=ang_ticks, ticklabelstandoff=9, **axis_common, row=2, col=1)
fig.update_yaxes(range=[0, 150], tickvals=ang_ticks, ticklabelstandoff=9, **axis_common, row=3, col=1)

shapes = []
# light segment on bottom axis (closest-approach label box edge)
shapes.append(dict(type="line", xref="paper", yref="paper", x0=px_x(593), x1=px_x(724), y0=0, y1=0,
                   line=dict(color="#d6d6d6", width=2), layer="above"))
for ev in red_dashdot_events:
    shapes.append(dict(type="line", xref="x", yref="paper", x0=ev, x1=ev, y0=0, y1=1,
                       line=dict(color="#ff0000", width=2.5, dash="12px,3px,2px,3px"), layer="above"))
for ev in blue_dashed_events:
    shapes.append(dict(type="line", xref="x", yref="paper", x0=ev, x1=ev, y0=0, y1=1,
                       line=dict(color="#0000ff", width=2.5, dash="9px,5px"), layer="above"))
for ev in closest_approach_events:
    shapes.append(dict(type="line", xref="x", yref="paper", x0=ev, x1=ev, y0=0, y1=1,
                       line=dict(color="#008080", width=2.5, dash="12px,3px,2px,3px"), layer="above"))
for ev in blue_solid_events:
    shapes.append(dict(type="line", xref="x", yref="paper", x0=ev, x1=ev, y0=0, y1=1,
                       line=dict(color="#0000ff", width=2.5), layer="above"))
# region bar below the axis
shapes.append(dict(type="rect", xref="paper", yref="paper", x0=px_x(263), x1=px_x(743),
                   y0=px_y(700), y1=px_y(678), fillcolor="#c0c0c0", line=dict(width=0)))
shapes.append(dict(type="rect", xref="paper", yref="paper", x0=px_x(744.5), x1=px_x(786),
                   y0=px_y(700), y1=px_y(678), fillcolor="#c0c0c0", line=dict(width=0)))

annotations = [
    dict(text="<b>Bt [nT]</b>", xref="paper", yref="paper", x=px_x(18), y=px_y(138),
         textangle=-90, showarrow=False, font=dict(family=FONT, size=16, color="#222222"),
         xanchor="center", yanchor="middle"),
    dict(text="\u03b8<b>(Bm,Bmaxvar)[\u00b0]</b>", xref="paper", yref="paper", x=px_x(21), y=px_y(343),
         textangle=-90, showarrow=False, font=dict(family=FONT, size=16, color="#222222"),
         xanchor="center", yanchor="middle"),
    dict(text="\u03d5<b>(Bm,Bminvar)[\u00b0]</b>", xref="paper", yref="paper", x=px_x(21), y=px_y(547),
         textangle=-90, showarrow=False, font=dict(family=FONT, size=16, color="#222222"),
         xanchor="center", yanchor="middle"),
    dict(text="<b>Closest Approach</b>", xref="paper", yref="paper", x=px_x(657.5), y=px_y(632),
         showarrow=False, font=dict(family=FONT, size=13.5, color="#0f8a86"),
         xanchor="center", yanchor="middle"),
    dict(text="<b>" + region_labels[0] + "</b>", xref="paper", yref="paper", x=px_x(581), y=px_y(690),
         showarrow=False, font=dict(family="Liberation Mono, Courier New, monospace", size=13.5, color="#222222"),
         xanchor="center", yanchor="middle"),
    dict(text="<b>" + region_labels[1] + "</b>", xref="paper", yref="paper", x=px_x(763), y=px_y(690),
         showarrow=False, font=dict(family="Liberation Mono, Courier New, monospace", size=13.5, color="#222222"),
         xanchor="center", yanchor="middle"),
]

fig.update_layout(
    width=W, height=H,
    margin=dict(l=L, r=R, t=T, b=B, pad=0),
    paper_bgcolor="white", plot_bgcolor="white",
    title=dict(text="<b>" + TITLE + "</b>", x=px_x(650), xref="paper", y=1 - 14 / H, yref="container",
               xanchor="center", yanchor="middle",
               font=dict(family=FONT, size=15, color="#222222")),
    shapes=shapes, annotations=annotations, showlegend=False,
)

fig.write_html("out.html")
